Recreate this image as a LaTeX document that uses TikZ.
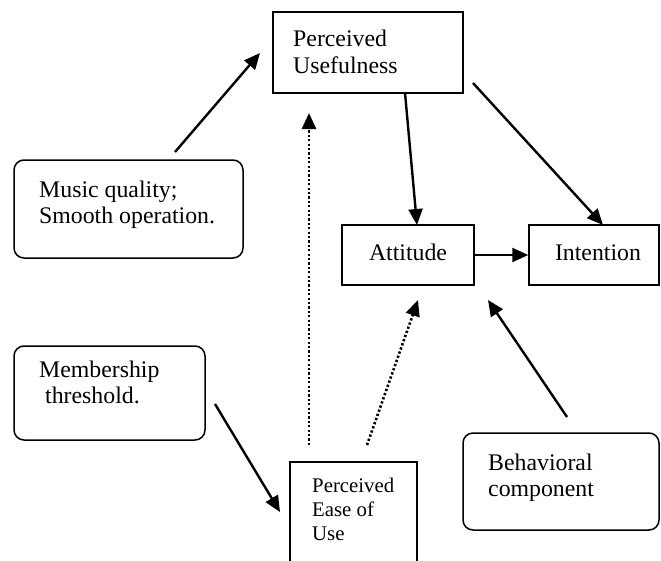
\documentclass[tikz,border=0pt]{standalone}
\usepackage{fontspec}
\setmainfont{Liberation Serif}
\usetikzlibrary{arrows.meta}
\begin{document}
\begin{tikzpicture}[x=1pt,y=-1pt,
  box/.style={draw,line width=1.5pt,rectangle,inner sep=0pt},
  rbox/.style={box,rounded corners=10pt},
  txt/.style={anchor=base west,inner sep=0pt,font=\fontsize{23.8}{27}\selectfont},
  stxt/.style={anchor=base west,inner sep=0pt,font=\fontsize{20.8}{24}\selectfont},
  arr/.style={line width=2.4pt,-{Triangle[length=16pt,width=14pt]}},
  darr/.style={line width=2.6pt,dash pattern=on 2.3pt off 2.1pt,-{Triangle[length=16pt,width=14pt]}}
]
\clip (0,0) rectangle (661,560);
\fill[white] (0,0) rectangle (661,560);
% boxes
\node[box,minimum width=190pt,minimum height=81pt] (pu) at (368,52.5) {};
\node[rbox,minimum width=229pt,minimum height=98pt] (mus) at (128.5,209) {};
\node[box,minimum width=132pt,minimum height=60pt] (att) at (408,255) {};
\node[box,minimum width=130pt,minimum height=60pt] (int) at (594,255) {};
\node[rbox,minimum width=191pt,minimum height=94pt] (mem) at (109.5,393) {};
\node[box,minimum width=127pt,minimum height=100pt] (peou) at (353.5,512) {};
\node[rbox,minimum width=196pt,minimum height=97pt] (beh) at (561,481.5) {};
% texts
\node[txt] (tpu1) at (293,46) {Perceived};
\node[txt] (tpu2) at (293,73) {Usefulness};
\node[txt] (tmu1) at (39,197) {Music quality;};
\node[txt] (tmu2) at (39,223) {Smooth operation.};
\node[txt,anchor=base] (tat) at (408,260) {Attitude};
\node[txt,anchor=base] (tin) at (598,260) {Intention};
\node[txt] (tme1) at (39,377) {Membership};
\node[txt] (tme2) at (45,403) {threshold.};
\node[stxt] (tpe1) at (312,492) {Perceived};
\node[stxt] (tpe2) at (312,516) {Ease of};
\node[stxt] (tpe3) at (312,540) {Use};
\node[txt] (tbe1) at (488,470) {Behavioral};
\node[txt] (tbe2) at (488,496) {component};
% connector end points
\coordinate (m1) at (175,152);
\coordinate (m2) at (260,53);
\coordinate (p1) at (405,93);
\coordinate (p2) at (417,225);
\coordinate (p3) at (473,83);
\coordinate (p4) at (603,225);
\coordinate (e1) at (309,445);
\coordinate (e2) at (309,113);
\coordinate (e3) at (367,445);
\coordinate (e4) at (418,300);
\coordinate (b1) at (215,404);
\coordinate (b2) at (280,512);
\coordinate (c1) at (567,417);
\coordinate (c2) at (488,300);
% connectors
\draw[arr] (m1) -- (m2);
\draw[arr] (p1) -- (p2);
\draw[arr] (p3) -- (p4);
\draw[arr] (att.east) -- (int.west);
\draw[darr] (e1) -- (e2);
\draw[darr] (e3) -- (e4);
\draw[arr] (b1) -- (b2);
\draw[arr] (c1) -- (c2);
\end{tikzpicture}
\end{document}
